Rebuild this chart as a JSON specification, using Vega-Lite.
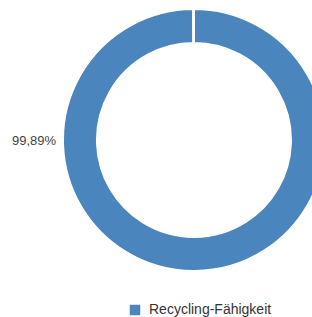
{
  "$schema": "https://vega.github.io/schema/vega-lite/v6.json",
  "width": 388,
  "height": 280,
  "autosize": {"type": "none"},
  "padding": {"left": 0, "top": 0, "right": 0, "bottom": 37},
  "background": "white",
  "data": {
    "values": [
      {"kategorie": "Recycling-Fähigkeit", "wert": 99.89, "label": "99,89%"},
      {"kategorie": "Rest", "wert": 0.11, "label": ""}
    ]
  },
  "encoding": {
    "theta": {"field": "wert", "type": "quantitative", "stack": true},
    "order": {"field": "wert", "type": "quantitative", "sort": "descending"}
  },
  "layer": [
    {
      "mark": {"type": "arc", "outerRadius": 131, "innerRadius": 97, "stroke": "white", "strokeWidth": 2},
      "encoding": {
        "color": {
          "field": "kategorie",
          "type": "nominal",
          "scale": {"domain": ["Recycling-Fähigkeit", "Rest"], "range": ["#4a85bd", "#ffffff"]},
          "legend": {
            "values": ["Recycling-Fähigkeit"],
            "title": null,
            "orient": "none",
            "legendX": 128,
            "legendY": 303,
            "symbolType": "square",
            "symbolSize": 110,
            "symbolStrokeWidth": 0,
            "labelFont": "Liberation Sans",
            "labelFontSize": 14,
            "labelColor": "#333333",
            "labelOffset": 7
          }
        }
      }
    },
    {
      "mark": {"type": "text", "radius": 160, "font": "Liberation Sans", "fontSize": 13, "color": "#444444", "align": "center", "baseline": "middle"},
      "encoding": {
        "theta": {"field": "wert", "type": "quantitative", "stack": true, "scale": {"range": [1.5708, 7.8540]}},
        "text": {"field": "label", "type": "nominal"}
      }
    }
  ],
  "resolve": {"scale": {"theta": "independent"}},
  "config": {"view": {"stroke": null}}
}
